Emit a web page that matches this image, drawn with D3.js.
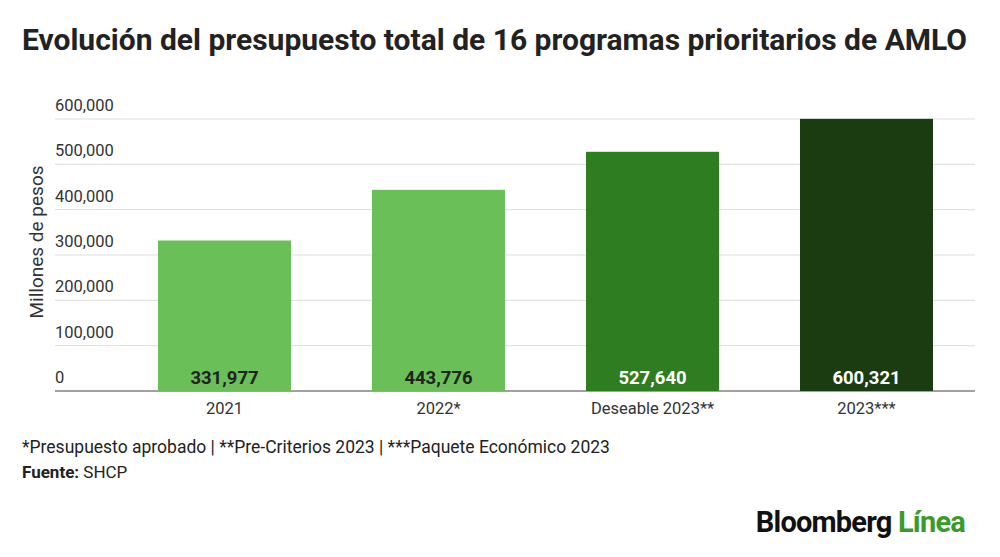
<!DOCTYPE html>
<html><head><meta charset="utf-8">
<script src="https://cdn.jsdelivr.net/npm/d3@7"></script>
<style>body{margin:0;background:#fff;font-family:Roboto,"Noto Sans",sans-serif}</style>
</head><body>
<svg id="c" width="1000" height="557"></svg>
<script>
const categories = ["2021","2022*","Deseable 2023**","2023***"];
const values = [331977,443776,527640,600321];
const labels = ["331,977","443,776","527,640","600,321"];
const colors = ["#6abf59","#6abf59","#2e7d20","#1b3b10"];
const labelColors = ["#222","#222","#fff","#fff"];
const yTicks = [0,100000,200000,300000,400000,500000,600000];

const svg = d3.select("#c");
svg.append("text").attr("x",22).attr("y",50).attr("font-size",30).attr("font-weight",700).attr("fill","#222")
  .text("Evolución del presupuesto total de 16 programas prioritarios de AMLO");

const x = d3.scaleBand().domain(categories).range([117.5,973.5]).paddingInner(0.38).paddingOuter(0.19);
const y = d3.scaleLinear().domain([0,600000]).range([391,119]);

const g = svg.append("g");
yTicks.forEach(t=>{
  g.append("line").attr("x1",55).attr("x2",975).attr("y1",y(t)).attr("y2",y(t))
   .attr("stroke", t===0?"#444":"#ddd").attr("stroke-width", t===0?1.2:1);
  g.append("text").attr("x",55).attr("y",y(t)-8).attr("font-size",16.5).attr("fill","#333")
   .text(d3.format(",")(t));
});
const bw = 133;
categories.forEach((c,i)=>{
  const cx = x(c)+x.bandwidth()/2;
  g.append("rect").attr("x",cx-bw/2).attr("width",bw).attr("y",y(values[i])).attr("height",y(0)-y(values[i])).attr("fill",colors[i]);
  g.append("text").attr("x",cx).attr("y",384).attr("text-anchor","middle").attr("font-size",18.5).attr("font-weight",700).attr("fill",labelColors[i]).text(labels[i]);
  g.append("text").attr("x",cx).attr("y",414).attr("text-anchor","middle").attr("font-size",16.5).attr("fill","#333").text(c);
});
svg.append("text").attr("transform","translate(43,242) rotate(-90)").attr("text-anchor","middle").attr("font-size",19).attr("fill","#333").text("Millones de pesos");
svg.append("text").attr("x",22).attr("y",453).attr("font-size",17.5).attr("fill","#222").text("*Presupuesto aprobado | **Pre-Criterios 2023 | ***Paquete Económico 2023");
const f = svg.append("text").attr("x",22).attr("y",478).attr("font-size",17).attr("fill","#222");
f.append("tspan").attr("font-weight",700).text("Fuente:");
f.append("tspan").text(" SHCP");
const l = svg.append("text").attr("x",965).attr("y",532).attr("text-anchor","end").attr("font-size",29).attr("font-weight",700).attr("letter-spacing",-0.8);
l.append("tspan").attr("fill","#111").text("Bloomberg ");
l.append("tspan").attr("fill","#3a9a2a").text("Línea");
</script>
</body></html>
